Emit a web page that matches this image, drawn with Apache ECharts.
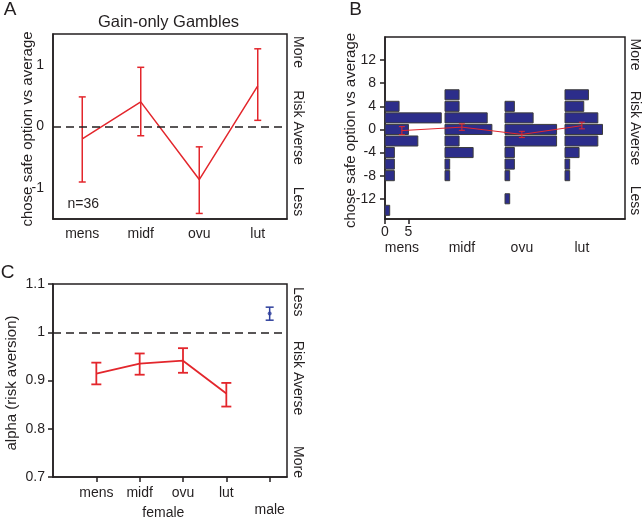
<!DOCTYPE html>
<html>
<head>
<meta charset="utf-8">
<script src="https://cdn.jsdelivr.net/npm/echarts@6/dist/echarts.min.js"></script>
<style>
html,body{margin:0;padding:0;background:#fff;}
#chart{width:642px;height:519px;}
</style>
</head>
<body>
<div id="chart"></div>
<script>
// ---------- data ----------
const phases = ['mens', 'midf', 'ovu', 'lut'];
const gainMean = [-0.2, 0.4, -0.86, 0.66];
const gainLow = [-0.9, -0.15, -1.41, 0.1];
const gainHigh = [0.48, 0.96, -0.33, 1.26];
const gainTicksA = [-1, -0.5, 0, 0.5, 1];
const gainLabelsA = [-1, 0, 1];

const histBins = [6, 4, 2, 0, -2, -4, -6, -8, -10, -12, -14];
const histMens = [0, 3, 12, 5, 7, 2, 2, 2, 0, 0, 1];
const histMidf = [3, 3, 9, 10, 3, 6, 1, 1, 0, 0, 0];
const histOvu = [0, 2, 6, 11, 11, 2, 2, 1, 0, 1, 0];
const histLut = [5, 4, 7, 8, 7, 3, 1, 1, 0, 0, 0];
const histTicksY = [-12, -8, -4, 0, 4, 8, 12];
const histTicksX = [0, 5];

const alphaGroups = ['mens', 'midf', 'ovu', 'lut', 'male'];
const alphaMean = [0.914, 0.935, 0.941, 0.873, 1.039];
const alphaLow = [0.892, 0.912, 0.916, 0.846, 1.025];
const alphaHigh = [0.937, 0.956, 0.967, 0.895, 1.052];
const alphaTicks = [0.7, 0.8, 0.9, 1, 1.1];

// ---------- styling ----------
const FONT = 'Liberation Sans, Arial, Helvetica, sans-serif';
const INK = '#231f20';
const RED = '#e3262c';
const BLUE = '#2e3f9c';
const BARFILL = '#2c2d8a';
const GROUP_SPAN = 12.8;   // histogram group spacing (count units)
const POINT_OFF = 3.6;     // offset of mean point inside a group

const chart = echarts.init(document.getElementById('chart'), null, {renderer: 'canvas'});

function errRender(capHalf, color, width) {
  return function (params, api) {
    const x = api.value(0), lo = api.value(2), hi = api.value(3);
    const pLo = api.coord([x, lo]), pHi = api.coord([x, hi]);
    const st = {stroke: color, lineWidth: width};
    return {type: 'group', children: [
      {type: 'line', shape: {x1: pLo[0], y1: pLo[1], x2: pHi[0], y2: pHi[1]}, style: st},
      {type: 'line', shape: {x1: pLo[0] - capHalf, y1: pLo[1], x2: pLo[0] + capHalf, y2: pLo[1]}, style: st},
      {type: 'line', shape: {x1: pHi[0] - capHalf, y1: pHi[1], x2: pHi[0] + capHalf, y2: pHi[1]}, style: st}
    ]};
  };
}

const axisLineSt = {show: true, onZero: false, lineStyle: {color: INK, width: 1.5}};
const tickSt = {lineStyle: {color: INK, width: 1.5}};
const labelSt = {color: INK, fontSize: 14, fontFamily: FONT};

// panel A data
const errA = phases.map((p, i) => [i, gainMean[i], gainLow[i], gainHigh[i]]);
// panel B data
const histAll = [histMens, histMidf, histOvu, histLut];
const histData = [];
histAll.forEach((counts, k) => {
  counts.forEach((c, j) => { if (c > 0) histData.push([k * GROUP_SPAN, c, histBins[j]]); });
});
const lineB = phases.map((p, k) => [k * GROUP_SPAN + POINT_OFF, gainMean[k]]);
const errB = phases.map((p, k) => [k * GROUP_SPAN + POINT_OFF, gainMean[k], gainLow[k], gainHigh[k]]);
const labelPosB = phases.map((p, k) => k * GROUP_SPAN + POINT_OFF);
// panel C data
const femaleLine = alphaGroups.slice(0, 4).map((g, i) => [i + 1, alphaMean[i]]);
const errCf = alphaGroups.slice(0, 4).map((g, i) => [i + 1, alphaMean[i], alphaLow[i], alphaHigh[i]]);
const errCm = [[5, alphaMean[4], alphaLow[4], alphaHigh[4]]];

const dashed = (y) => ({
  silent: true, symbol: 'none', label: {show: false},
  lineStyle: {color: INK, type: [8, 5], width: 1.5},
  data: [{yAxis: y}]
});

const option = {
  animation: false,
  backgroundColor: '#fff',
  textStyle: {fontFamily: FONT},
  grid: [
    {left: 53, top: 34, width: 234, height: 185, show: true, borderColor: INK, borderWidth: 1.5},
    {left: 385, top: 37, width: 240, height: 182, show: true, borderColor: INK, borderWidth: 1.5},
    {left: 53, top: 284, width: 234, height: 196, show: true, borderColor: INK, borderWidth: 1.5}
  ],
  xAxis: [
    {gridIndex: 0, type: 'category', data: phases, boundaryGap: true,
     axisLine: axisLineSt, axisTick: Object.assign({alignWithLabel: true, length: 6}, tickSt),
     axisLabel: Object.assign({margin: 8}, labelSt), splitLine: {show: false}},
    {gridIndex: 1, type: 'value', min: 0, max: 4 * GROUP_SPAN,
     axisLine: axisLineSt, axisTick: Object.assign({customValues: histTicksX, length: 5}, tickSt),
     axisLabel: Object.assign({customValues: histTicksX, margin: 6}, labelSt), splitLine: {show: false}},
    {gridIndex: 1, type: 'value', min: 0, max: 4 * GROUP_SPAN, position: 'bottom', offset: 16,
     axisLine: {show: false, onZero: false}, axisTick: {show: false}, splitLine: {show: false},
     axisLabel: Object.assign({customValues: labelPosB, margin: 6,
       formatter: (v) => phases[Math.round((v - POINT_OFF) / GROUP_SPAN)]}, labelSt)},
    {gridIndex: 2, type: 'value', min: 0, max: 5.4,
     axisLine: axisLineSt, axisTick: Object.assign({customValues: [1, 2, 3, 4, 5], length: 5}, tickSt),
     splitLine: {show: false},
     axisLabel: Object.assign({customValues: [1, 2, 3, 4, 5], margin: 8, lineHeight: 17,
       formatter: (v) => (v === 5 ? '\n' : '') + alphaGroups[Math.round(v) - 1]}, labelSt)}
  ],
  yAxis: [
    {gridIndex: 0, type: 'value', min: -1.5, max: 1.5,
     axisLine: axisLineSt, axisTick: Object.assign({customValues: gainTicksA, length: 5}, tickSt),
     axisLabel: Object.assign({customValues: gainLabelsA, margin: 9}, labelSt), splitLine: {show: false}},
    {gridIndex: 1, type: 'value', min: -15.5, max: 16,
     axisLine: axisLineSt, axisTick: Object.assign({customValues: histTicksY, length: 5}, tickSt),
     axisLabel: Object.assign({customValues: histTicksY, margin: 9}, labelSt), splitLine: {show: false}},
    {gridIndex: 2, type: 'value', min: 0.7, max: 1.1,
     axisLine: axisLineSt, axisTick: Object.assign({customValues: alphaTicks, length: 5}, tickSt),
     axisLabel: Object.assign({customValues: alphaTicks, margin: 8}, labelSt), splitLine: {show: false}}
  ],
  series: [
    // Panel A
    {type: 'line', xAxisIndex: 0, yAxisIndex: 0, data: gainMean, symbol: 'none',
     lineStyle: {color: RED, width: 1.5}, markLine: dashed(0), z: 3},
    {type: 'custom', xAxisIndex: 0, yAxisIndex: 0, data: errA, renderItem: errRender(3.5, RED, 1.5), z: 4},
    // Panel B
    {type: 'custom', xAxisIndex: 1, yAxisIndex: 1, data: histData, z: 2,
     renderItem: function (params, api) {
       const x0 = api.value(0), c = api.value(1), b = api.value(2);
       const p1 = api.coord([x0, b + 0.87]), p2 = api.coord([x0 + c, b - 0.87]);
       return {type: 'rect', shape: {x: p1[0], y: p1[1], width: p2[0] - p1[0], height: p2[1] - p1[1]},
               style: {fill: BARFILL, stroke: '#3c3c3c', lineWidth: 1}};
     }},
    {type: 'line', xAxisIndex: 1, yAxisIndex: 1, data: lineB, symbol: 'none',
     lineStyle: {color: RED, width: 1}, z: 5},
    {type: 'custom', xAxisIndex: 1, yAxisIndex: 1, data: errB, renderItem: errRender(3, RED, 1), z: 6},
    // Panel C
    {type: 'line', xAxisIndex: 3, yAxisIndex: 2, data: femaleLine, symbol: 'none',
     lineStyle: {color: RED, width: 1.8}, markLine: dashed(1), z: 3},
    {type: 'custom', xAxisIndex: 3, yAxisIndex: 2, data: errCf, renderItem: errRender(5, RED, 1.8), z: 4},
    {type: 'custom', xAxisIndex: 3, yAxisIndex: 2, data: errCm, renderItem: errRender(4, BLUE, 1.5), z: 4},
    {type: 'scatter', xAxisIndex: 3, yAxisIndex: 2, data: [[5, alphaMean[4]]], symbol: 'circle',
     symbolSize: 4, itemStyle: {color: BLUE}, z: 5}
  ],
  graphic: [
    {type: 'text', x: 10, y: 10, style: {text: 'A', font: '19px ' + FONT, fill: INK, align: 'center', verticalAlign: 'middle'}},
    {type: 'text', x: 355.5, y: 10, style: {text: 'B', font: '19px ' + FONT, fill: INK, align: 'center', verticalAlign: 'middle'}},
    {type: 'text', x: 7.5, y: 272.5, style: {text: 'C', font: '19px ' + FONT, fill: INK, align: 'center', verticalAlign: 'middle'}},
    {type: 'text', x: 168.5, y: 22, style: {text: 'Gain-only Gambles', font: '16.5px ' + FONT, fill: INK, align: 'center', verticalAlign: 'middle'}},
    {type: 'text', x: 67.5, y: 204, style: {text: 'n=36', font: '14px ' + FONT, fill: INK, align: 'left', verticalAlign: 'middle'}},
    // y axis names
    {type: 'text', x: 27.5, y: 129, rotation: Math.PI / 2, style: {text: 'chose safe option vs average', font: '15px ' + FONT, fill: INK, align: 'center', verticalAlign: 'middle'}},
    {type: 'text', x: 350.5, y: 130.5, rotation: Math.PI / 2, style: {text: 'chose safe option vs average', font: '15px ' + FONT, fill: INK, align: 'center', verticalAlign: 'middle'}},
    {type: 'text', x: 11.5, y: 383, rotation: Math.PI / 2, style: {text: 'alpha (risk aversion)', font: '15px ' + FONT, fill: INK, align: 'center', verticalAlign: 'middle'}},
    // right-side labels A
    {type: 'text', x: 298, y: 52, rotation: -Math.PI / 2, style: {text: 'More', font: '14px ' + FONT, fill: INK, align: 'center', verticalAlign: 'middle'}},
    {type: 'text', x: 298, y: 127.5, rotation: -Math.PI / 2, style: {text: 'Risk Averse', font: '14px ' + FONT, fill: INK, align: 'center', verticalAlign: 'middle'}},
    {type: 'text', x: 298, y: 201.5, rotation: -Math.PI / 2, style: {text: 'Less', font: '14px ' + FONT, fill: INK, align: 'center', verticalAlign: 'middle'}},
    // right-side labels B
    {type: 'text', x: 635, y: 54.5, rotation: -Math.PI / 2, style: {text: 'More', font: '14px ' + FONT, fill: INK, align: 'center', verticalAlign: 'middle'}},
    {type: 'text', x: 635, y: 128, rotation: -Math.PI / 2, style: {text: 'Risk Averse', font: '14px ' + FONT, fill: INK, align: 'center', verticalAlign: 'middle'}},
    {type: 'text', x: 635, y: 200.5, rotation: -Math.PI / 2, style: {text: 'Less', font: '14px ' + FONT, fill: INK, align: 'center', verticalAlign: 'middle'}},
    // right-side labels C
    {type: 'text', x: 298, y: 301.7, rotation: -Math.PI / 2, style: {text: 'Less', font: '14px ' + FONT, fill: INK, align: 'center', verticalAlign: 'middle'}},
    {type: 'text', x: 298, y: 378, rotation: -Math.PI / 2, style: {text: 'Risk Averse', font: '14px ' + FONT, fill: INK, align: 'center', verticalAlign: 'middle'}},
    {type: 'text', x: 298, y: 462, rotation: -Math.PI / 2, style: {text: 'More', font: '14px ' + FONT, fill: INK, align: 'center', verticalAlign: 'middle'}},
    // group label C
    {type: 'text', x: 163.3, y: 513.5, style: {text: 'female', font: '14px ' + FONT, fill: INK, align: 'center', verticalAlign: 'middle'}}
  ]
};
chart.setOption(option);
</script>
</body>
</html>
